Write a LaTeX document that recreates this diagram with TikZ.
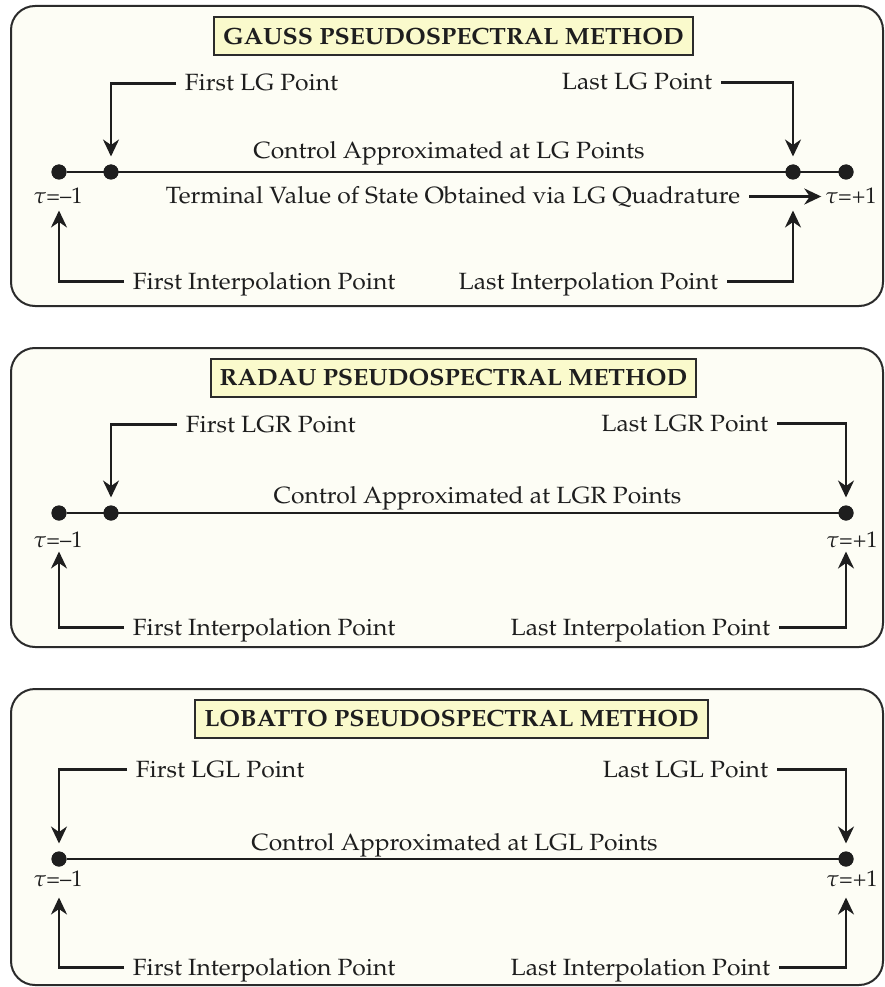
\documentclass[tikz,border=0pt]{standalone}
\usepackage[T1]{fontenc}
\usepackage{mathpazo}
\usetikzlibrary{arrows.meta}

\definecolor{panelfill}{HTML}{FDFDF5}
\definecolor{titlefill}{HTML}{FAFACC}
\definecolor{ink}{HTML}{1E1E1E}
\definecolor{rim}{HTML}{2B2B2B}

\newcommand{\bodyfont}{\fontsize{23.5}{28}\selectfont}
\newcommand{\headfont}{\fontsize{23.5}{28}\selectfont\bfseries}
\newcommand{\taufont}{\fontsize{22.5}{26}\selectfont}

\tikzset{
  panel/.style={draw=rim, line width=2pt, fill=panelfill, rounded corners=24pt},
  headbox/.style={draw=rim, line width=2pt, fill=titlefill, font=\headfont,
    text=ink, inner xsep=8.5pt, minimum height=38pt, xscale=1.06, transform shape},
  lbl/.style={font=\bodyfont, text=ink, inner sep=0pt, outer xsep=8.5pt,
    outer ysep=0pt, text height=15pt, text depth=0pt, xscale=1.05, transform shape},
  taulbl/.style={font=\taufont, text=ink, inner sep=0pt, outer xsep=4pt,
    text height=15pt, text depth=0pt},
  dot/.style={circle, fill=ink, minimum size=15pt, inner sep=0pt, outer sep=0pt},
  axis/.style={draw=ink, line width=2.6pt},
  pointer/.style={draw=ink, line width=2.4pt, -{Stealth[length=17pt,width=16pt,inset=5.5pt]}},
  down/.style={pointer, shorten >=8pt},
  up/.style={pointer, shorten >=31pt},
}

\begin{document}
\begin{tikzpicture}[x=1pt, y=-1pt]
  \useasboundingbox (0,0) rectangle (885,987);

  % ---------------- Gauss ----------------
  \draw[panel] (11,6) rectangle (883,306);
  \node[headbox] (t1) at (453.5,36) {GAUSS PSEUDOSPECTRAL METHOD};
  \node[dot] (a0) at (59,172) {};
  \node[dot] (a1) at (111,172) {};
  \node[dot] (a2) at (793,172) {};
  \node[dot] (a3) at (846,172) {};
  \draw[axis] (a0) -- (a3);
  \node[dot] at (a0) {};
  \node[dot] at (a1) {};
  \node[dot] at (a2) {};
  \node[dot] at (a3) {};
  \node[lbl, anchor=base] (ctl1) at (449,159) {Control Approximated at LG Points};
  \node[taulbl, anchor=base] (taum1) at (58,204) {\(\tau\)=--1};
  \node[taulbl, anchor=base] (taup1) at (851,204) {\(\tau\)=+1};
  \node[lbl, anchor=base east] (term) at (749,204) {Terminal Value of State Obtained via LG Quadrature};
  \node[lbl, anchor=base west] (flg) at (176,91) {First LG Point};
  \node[lbl, anchor=base east] (llg) at (721,90) {Last LG Point};
  \node[lbl, anchor=base west] (fip1) at (124,289) {First Interpolation Point};
  \node[lbl, anchor=base east] (lip1) at (727,289) {Last Interpolation Point};
  \draw[down] (flg.west) -| (a1);
  \draw[down] (llg.east) -| (a2);
  \draw[up] (fip1.west) -| (a0);
  \draw[up] (lip1.east) -| (a2);
  \draw[pointer] (term.east) -- (taup1.west);

  % ---------------- Radau ----------------
  \draw[panel] (11,348) rectangle (883,647);
  \node[headbox] (t2) at (453.5,377.5) {RADAU PSEUDOSPECTRAL METHOD};
  \node[dot] (b0) at (59,513) {};
  \node[dot] (b1) at (111,513) {};
  \node[dot] (b3) at (846,513) {};
  \draw[axis] (b0) -- (b3);
  \node[dot] at (b0) {};
  \node[dot] at (b1) {};
  \node[dot] at (b3) {};
  \node[lbl, anchor=base] (ctl2) at (477.5,503) {Control Approximated at LGR Points};
  \node[taulbl, anchor=base] (taum2) at (58,547) {\(\tau\)=--1};
  \node[taulbl, anchor=base] (taup2) at (852,547) {\(\tau\)=+1};
  \node[lbl, anchor=base west] (flgr) at (177,432) {First LGR Point};
  \node[lbl, anchor=base east] (llgr) at (777,431) {Last LGR Point};
  \node[lbl, anchor=base west] (fip2) at (124,635) {First Interpolation Point};
  \node[lbl, anchor=base east] (lip2) at (779,635) {Last Interpolation Point};
  \draw[down] (flgr.west) -| (b1);
  \draw[down] (llgr.east) -| (b3);
  \draw[up] (fip2.west) -| (b0);
  \draw[up] (lip2.east) -| (b3);

  % ---------------- Lobatto ----------------
  \draw[panel] (11,689) rectangle (883,985);
  \node[headbox] (t3) at (451.5,718.5) {LOBATTO PSEUDOSPECTRAL METHOD};
  \node[dot] (c0) at (59,859) {};
  \node[dot] (c3) at (846,859) {};
  \draw[axis] (c0) -- (c3);
  \node[dot] at (c0) {};
  \node[dot] at (c3) {};
  \node[lbl, anchor=base] (ctl3) at (454.5,850) {Control Approximated at LGL Points};
  \node[taulbl, anchor=base] (taum3) at (58,886) {\(\tau\)=--1};
  \node[taulbl, anchor=base] (taup3) at (852,886) {\(\tau\)=+1};
  \node[lbl, anchor=base west] (flgl) at (127,777) {First LGL Point};
  \node[lbl, anchor=base east] (llgl) at (777,777) {Last LGL Point};
  \node[lbl, anchor=base west] (fip3) at (124,975) {First Interpolation Point};
  \node[lbl, anchor=base east] (lip3) at (779,975) {Last Interpolation Point};
  \draw[down] (flgl.west) -| (c0);
  \draw[down] (llgl.east) -| (c3);
  \draw[up] (fip3.west) -| (c0);
  \draw[up] (lip3.east) -| (c3);
\end{tikzpicture}
\end{document}
